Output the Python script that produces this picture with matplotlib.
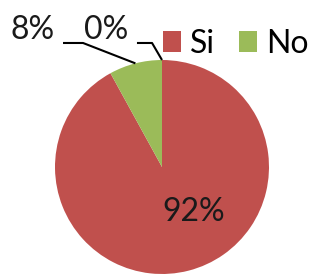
import numpy as np
import matplotlib
matplotlib.use("Agg")
import matplotlib.pyplot as plt
from matplotlib.patches import Patch

# data
categories = ["Si", "No", ""]
values = [92, 8, 0]
pct_labels = ["92%", "8%", "0%"]
colors = ["#C0504D", "#9BBB59", "#4F81BD"]

plt.rcParams['font.family'] = ['Lato', 'DejaVu Sans']
FS = 23

fig = plt.figure(figsize=(3.14, 2.78), dpi=100)
# pie area: center (162,167) px, radius 107 px
ax = fig.add_axes([55 / 314, 4 / 278, 214 / 314, 214 / 278])

wedges, _ = ax.pie(values, colors=colors, startangle=90, counterclock=False,
                   radius=1, frame=True)
ax.set_xlim(-1, 1)
ax.set_ylim(-1, 1)
ax.set_aspect('auto')
ax.axis('off')

# inside label for the big slice
ax.text(0.294, -0.416, pct_labels[0], fontsize=FS, ha='center', va='center', color='#1a1a1a')

# outside labels with leader lines (end at slice mid-angle on the rim)
outside = [
    # idx, text pos, elbow y, line start x, elbow x
    (1, (-1.206, 1.276), 1.159, -0.925, -0.738),
    (2, (-0.519, 1.276), 1.159, -0.234, -0.093),
]
for idx, tpos, ey, x0, x1 in outside:
    w = wedges[idx]
    mid = np.deg2rad((w.theta1 + w.theta2) / 2)
    xe, ye = np.cos(mid), np.sin(mid)
    ax.plot([x0, x1, xe], [ey, ey, ye], color='black', lw=1.5, clip_on=False,
            solid_capstyle='butt')
    ax.text(tpos[0], tpos[1], pct_labels[idx], fontsize=FS, ha='center', va='center',
            color='#1a1a1a', clip_on=False)

handles = [Patch(facecolor=colors[i], edgecolor='none') for i in range(2)]
fig.legend(handles, categories[:2], loc='center left',
           bbox_to_anchor=(163 / 314, 1 - 44 / 278), ncol=2, frameon=False,
           fontsize=FS, handlelength=0.55, handleheight=0.65, handletextpad=0.3,
           columnspacing=0.75, borderpad=0, borderaxespad=0)

fig.savefig("out.png", dpi=100, facecolor='white')
